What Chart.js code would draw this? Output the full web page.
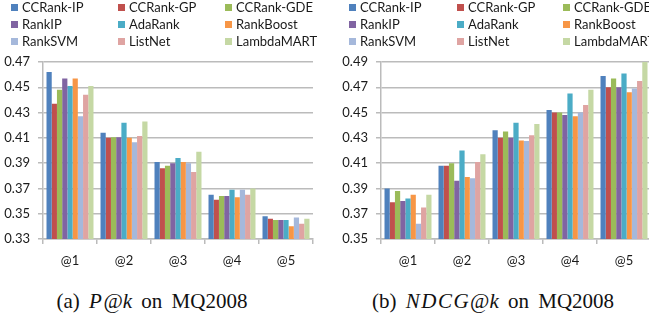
<!DOCTYPE html>
<html>
<head>
<meta charset="utf-8">
<script src="https://cdn.jsdelivr.net/npm/chart.js@4.4.0/dist/chart.umd.min.js"></script>
<style>
  html,body{margin:0;padding:0;background:#fff;}
  body{width:649px;height:324px;overflow:hidden;position:relative;}
  .wrap{position:absolute;top:0;}
  .leg{position:absolute;font-family:Lato,"Liberation Sans",sans-serif;font-size:13px;color:#1a1a1a;white-space:nowrap;line-height:13px;}
  .sw{position:absolute;width:7px;height:7px;}
  .cap{position:absolute;font-family:"Liberation Serif","DejaVu Serif",serif;font-size:21px;color:#111;white-space:nowrap;word-spacing:4px;}
  .cap .m{letter-spacing:1.5px;}
</style>
</head>
<body>
<div class="wrap" style="left:0;width:320px;height:275px;"><canvas id="cL" width="320" height="275"></canvas></div>
<div class="wrap" style="left:320px;width:340px;height:275px;"><canvas id="cR" width="340" height="275"></canvas></div>
<div id="legends"></div>
<div class="cap" id="capL">(a) <i class="m">P</i>@<i>k</i> on MQ2008</div>
<div class="cap" id="capR">(b) <i class="m">NDCG</i>@<i>k</i> on MQ2008</div>
<script>
// ---- data ----
const categories = ['@1', '@2', '@3', '@4', '@5'];
const methods = ['CCRank-IP', 'CCRank-GP', 'CCRank-GDE', 'RankIP', 'AdaRank', 'RankBoost', 'RankSVM', 'ListNet', 'LambdaMART'];
const colors = ['#4F81BD', '#C0504D', '#9BBB59', '#8064A2', '#4BACC6', '#F79646', '#A5B8DB', '#DFA4A2', '#C5D8A4'];

// P@k on MQ2008
const p_CCRankIP   = [0.462, 0.414, 0.391, 0.365, 0.348];
const p_CCRankGP   = [0.437, 0.410, 0.386, 0.361, 0.346];
const p_CCRankGDE  = [0.448, 0.4105, 0.388, 0.364, 0.345];
const p_RankIP     = [0.457, 0.4105, 0.390, 0.364, 0.345];
const p_AdaRank    = [0.451, 0.422, 0.394, 0.369, 0.345];
const p_RankBoost  = [0.457, 0.410, 0.391, 0.363, 0.340];
const p_RankSVM    = [0.427, 0.4065, 0.390, 0.369, 0.347];
const p_ListNet    = [0.444, 0.4115, 0.383, 0.365, 0.342];
const p_LambdaMART = [0.451, 0.423, 0.399, 0.370, 0.346];

// NDCG@k on MQ2008
const n_CCRankIP   = [0.390, 0.408, 0.436, 0.452, 0.479];
const n_CCRankGP   = [0.379, 0.408, 0.430, 0.450, 0.470];
const n_CCRankGDE  = [0.388, 0.410, 0.435, 0.450, 0.477];
const n_RankIP     = [0.380, 0.396, 0.430, 0.448, 0.470];
const n_AdaRank    = [0.382, 0.420, 0.442, 0.465, 0.481];
const n_RankBoost  = [0.385, 0.399, 0.428, 0.447, 0.466];
const n_RankSVM    = [0.362, 0.398, 0.4275, 0.450, 0.469];
const n_ListNet    = [0.375, 0.411, 0.432, 0.456, 0.475];
const n_LambdaMART = [0.385, 0.417, 0.441, 0.468, 0.490];

const pTicks = [0.33, 0.35, 0.37, 0.39, 0.41, 0.43, 0.45, 0.47];
const nTicks = [0.35, 0.37, 0.39, 0.41, 0.43, 0.45, 0.47, 0.49];

const pSeries = [p_CCRankIP, p_CCRankGP, p_CCRankGDE, p_RankIP, p_AdaRank, p_RankBoost, p_RankSVM, p_ListNet, p_LambdaMART];
const nSeries = [n_CCRankIP, n_CCRankGP, n_CCRankGDE, n_RankIP, n_AdaRank, n_RankBoost, n_RankSVM, n_ListNet, n_LambdaMART];

// ---- chart ----
const GRID = '#BBBBBB';
const FONT = {family: 'Lato, "Liberation Sans", sans-serif', size: 13};

function makeChart(id, series, ticks, yWidth, padRight) {
  const datasets = methods.map((m, i) => ({
    label: m, data: series[i], backgroundColor: colors[i], borderWidth: 0,
    barPercentage: 1.0, categoryPercentage: 0.87
  }));
  return new Chart(document.getElementById(id), {
    type: 'bar',
    data: {labels: categories, datasets},
    options: {
      responsive: false, animation: false, devicePixelRatio: 1,
      layout: {padding: {top: 62, right: padRight, bottom: 0, left: 0}},
      plugins: {legend: {display: false}, tooltip: {enabled: false}},
      scales: {
        x: {
          grid: {display: true, drawOnChartArea: false, drawTicks: true, tickLength: 5, offset: true, color: GRID, lineWidth: 1.5},
          border: {display: true, color: GRID, width: 1.5},
          ticks: {color: '#1a1a1a', font: FONT, padding: 9, maxRotation: 0},
          afterFit: s => { s.height = 36; }
        },
        y: {
          min: ticks[0], max: ticks[ticks.length - 1],
          afterBuildTicks: s => { s.ticks = ticks.map(v => ({value: v})); },
          grid: {color: GRID, lineWidth: 1.5, tickLength: 5, drawTicks: true},
          border: {display: true, color: GRID, width: 1.5},
          ticks: {color: '#1a1a1a', font: FONT, padding: 8, callback: v => Number(v).toFixed(2)},
          afterFit: s => { s.width = yWidth; }
        }
      }
    }
  });
}

makeChart('cL', pSeries, pTicks, 43, 7);
makeChart('cR', nSeries, nTicks, 61, 9);

// ---- HTML legends (3 columns x 3 rows) ----
const legCols = [[11, 118, 225], [349, 457, 563]];
const legRows = [8, 25, 42];
const legRoot = document.getElementById('legends');
legCols.forEach(cols => {
  methods.forEach((m, i) => {
    const x = cols[i % 3], yc = legRows[Math.floor(i / 3)];
    const sw = document.createElement('div');
    sw.className = 'sw';
    sw.style.left = x + 'px'; sw.style.top = (yc - 4) + 'px'; sw.style.background = colors[i];
    legRoot.appendChild(sw);
    const t = document.createElement('div');
    t.className = 'leg';
    t.style.left = (x + 11) + 'px'; t.style.top = (yc - 7) + 'px';
    t.textContent = m;
    legRoot.appendChild(t);
  });
});

// captions centred under each panel
function placeCap(id, cx) {
  const el = document.getElementById(id);
  el.style.left = (cx - el.offsetWidth / 2) + 'px';
  el.style.top = '289px';
}
placeCap('capL', 152);
placeCap('capR', 493);
</script>
</body>
</html>
